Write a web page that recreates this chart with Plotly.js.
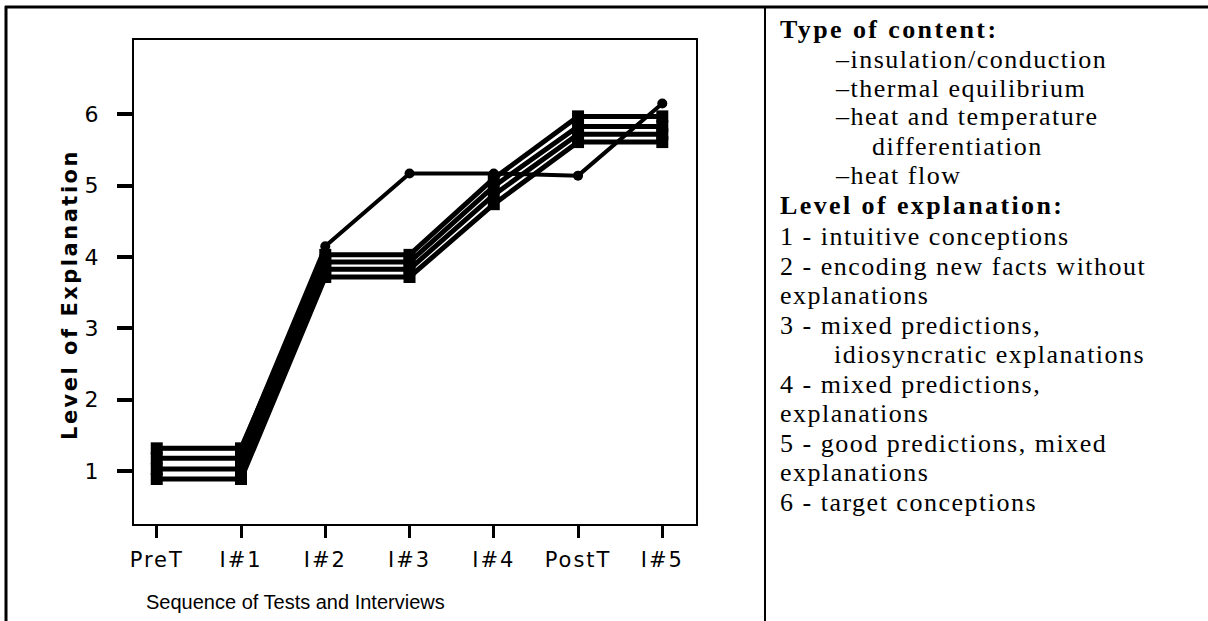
<!DOCTYPE html>
<html>
<head>
<meta charset="utf-8">
<script src="https://cdn.plot.ly/plotly-3.0.1.min.js"></script>
<style>
html,body{margin:0;padding:0;background:#fff;}
#chart{width:1208px;height:621px;}
.xtick text{letter-spacing:2px;}
</style>
</head>
<body>
<div id="chart"></div>
<script>
// ---- data ----
const categories = ['PreT', 'I#1', 'I#2', 'I#3', 'I#4', 'PostT', 'I#5'];
const seriesA = [1.32, 1.32, 4.15, 5.17, 5.17, 5.14, 6.15];
const seriesB = [1.32, 1.32, 4.03, 4.03, 5.10, 5.97, 5.97];
const seriesC = [1.18, 1.18, 3.93, 3.93, 4.99, 5.83, 5.83];
const seriesD = [1.03, 1.03, 3.83, 3.83, 4.87, 5.72, 5.72];
const seriesE = [0.89, 0.89, 3.72, 3.72, 4.74, 5.61, 5.61];
const yTickVals = [1, 2, 3, 4, 5, 6];
const yTickText = ['1', '2', '3', '4', '5', '6'];
const xTitle = 'Sequence of Tests and Interviews';
const yTitle = 'Level of Explanation';
const legendLines = [
  {text: 'Type of content:', bold: true, indent: 0},
  {text: '–insulation/conduction', indent: 1},
  {text: '–thermal equilibrium', indent: 1},
  {text: '–heat and temperature', indent: 1},
  {text: 'differentiation', indent: 2},
  {text: '–heat flow', indent: 1},
  {text: 'Level of explanation:', bold: true, indent: 0},
  {text: '1 - intuitive conceptions', indent: 0},
  {text: '2 - encoding new facts without', indent: 0},
  {text: 'explanations', indent: 0},
  {text: '3 - mixed predictions,', indent: 0},
  {text: 'idiosyncratic explanations', indent: 3},
  {text: '4 - mixed predictions,', indent: 0},
  {text: 'explanations', indent: 0},
  {text: '5 - good predictions, mixed', indent: 0},
  {text: 'explanations', indent: 0},
  {text: '6 - target conceptions', indent: 0}
];

// ---- layout geometry (pixels) ----
const W = 1208, H = 621;
const L = 134, R = 696, T = 40, B = 524;
const px = x => (x - L) / (R - L);
const py = y => (B - y) / (B - T);

const xIdx = categories.map((c, i) => i);

function trace(vals, sym, size, lw) {
  return {
    x: xIdx, y: vals, type: 'scatter', mode: 'lines+markers',
    line: {color: '#000', width: lw},
    marker: {color: '#000', symbol: sym, size: size},
    hoverinfo: 'skip', showlegend: false, cliponaxis: false
  };
}

const data = [
  trace(seriesE, 'square', 12, 5),
  trace(seriesD, 'square', 12, 5),
  trace(seriesC, 'square', 12, 5),
  trace(seriesB, 'square', 12, 5),
  trace(seriesA, 'circle', 10, 4)
];

const indentX = [778, 833, 870, 832];
const lineY = [30, 59, 88, 117, 146, 176, 206, 236, 266, 295, 325, 354, 384, 413, 443, 472, 502];

const annotations = legendLines.map((ln, i) => ({
  text: ln.bold
    ? '<b><span style="letter-spacing:2.4px">' + ln.text + '</span></b>'
    : '<span style="letter-spacing:1.5px">' + ln.text + '</span>',
  xref: 'paper', yref: 'paper',
  x: px(indentX[ln.indent]), y: py(lineY[i]),
  xanchor: 'left', yanchor: 'middle', showarrow: false,
  font: {family: 'Liberation Serif', size: 26, color: '#000'}
}));

annotations.push({
  text: xTitle, xref: 'paper', yref: 'paper',
  x: px(295), y: py(602), xanchor: 'center', yanchor: 'middle',
  showarrow: false, font: {family: 'Liberation Sans', size: 20, color: '#000'}
});
annotations.push({
  text: '<b><span style="letter-spacing:2.5px">' + yTitle + '</span></b>', xref: 'paper', yref: 'paper',
  x: px(70), y: py(295), xanchor: 'center', yanchor: 'middle',
  textangle: -90, showarrow: false,
  font: {family: 'DejaVu Sans', size: 21, color: '#000'}
});

const shapes = [
  {type: 'line', xref: 'paper', yref: 'paper', x0: px(5), x1: px(1208), y0: py(7), y1: py(7), line: {color: '#000', width: 3}},
  {type: 'line', xref: 'paper', yref: 'paper', x0: px(6), x1: px(6), y0: py(6), y1: py(621), line: {color: '#000', width: 3}},
  {type: 'line', xref: 'paper', yref: 'paper', x0: px(765), x1: px(765), y0: py(6), y1: py(621), line: {color: '#000', width: 2}}
];

const layout = {
  width: W, height: H,
  margin: {l: L, r: W - R, t: T, b: H - B, pad: 0},
  paper_bgcolor: '#fff', plot_bgcolor: '#fff',
  showlegend: false,
  xaxis: {
    range: [-0.27, 6.40], tickvals: xIdx, ticktext: categories,
    showgrid: false, zeroline: false,
    showline: true, linecolor: '#000', linewidth: 2, mirror: true,
    ticks: 'outside', ticklen: 12, tickwidth: 3, tickcolor: '#000',
    ticklabelstandoff: 4,
    tickfont: {family: 'DejaVu Sans', size: 21, color: '#000'},
    fixedrange: true
  },
  yaxis: {
    range: [0.26, 7.04], tickvals: yTickVals, ticktext: yTickText,
    showgrid: false, zeroline: false,
    showline: true, linecolor: '#000', linewidth: 2, mirror: true,
    ticks: 'outside', ticklen: 15, tickwidth: 4, tickcolor: '#000',
    ticklabelstandoff: 14,
    tickfont: {family: 'DejaVu Sans', size: 22, color: '#000'},
    fixedrange: true
  },
  annotations: annotations,
  shapes: shapes
};

Plotly.newPlot('chart', data, layout, {displayModeBar: false, staticPlot: true});
</script>
</body>
</html>
